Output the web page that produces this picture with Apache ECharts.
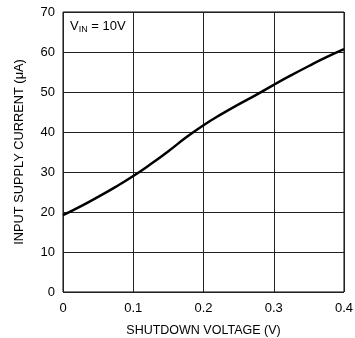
<!DOCTYPE html>
<html>
<head>
<meta charset="utf-8">
<script src="https://cdn.jsdelivr.net/npm/echarts@6/dist/echarts.min.js"></script>
<style>
  html, body { margin: 0; padding: 0; background: #fff; }
  #chart { width: 355px; height: 338px; }
</style>
</head>
<body>
<div id="chart"></div>
<script>
// Shutdown voltage (V) vs input supply current (µA), VIN = 10V
const shutdownVoltage = [0, 0.025, 0.05, 0.075, 0.1, 0.125, 0.15, 0.175, 0.2, 0.225, 0.25, 0.275, 0.3, 0.325, 0.35, 0.375, 0.4];
const supplyCurrent = [19.2, 21.4, 23.8, 26.3, 29.0, 32.0, 35.2, 38.6, 41.7, 44.4, 46.9, 49.3, 51.8, 54.2, 56.5, 58.7, 60.7];
const xTicks = ['0', '0.1', '0.2', '0.3', '0.4'];
const yTicks = ['0', '10', '20', '30', '40', '50', '60', '70'];

const FONT = '"Liberation Sans", Arial, sans-serif';
const chart = echarts.init(document.getElementById('chart'), null, { renderer: 'canvas' });

chart.setOption({
  animation: false,
  backgroundColor: '#fff',
  grid: {
    left: 63, top: 12, right: 11, bottom: 46,
    outerBoundsMode: 'none', containLabel: false,
    show: true, borderColor: '#000', borderWidth: 1
  },
  xAxis: {
    type: 'value', min: 0, max: 0.4, interval: 0.1,
    name: 'SHUTDOWN VOLTAGE (V)', nameLocation: 'middle', nameGap: 32,
    nameTextStyle: { fontFamily: FONT, fontSize: 12.5, color: '#000' },
    axisLine: { show: false }, axisTick: { show: false },
    axisLabel: { fontFamily: FONT, fontSize: 13, color: '#000', margin: 10,
      formatter: (v) => xTicks[Math.round(v * 10)] },
    splitLine: { lineStyle: { color: '#222', width: 1 } }
  },
  yAxis: {
    type: 'value', min: 0, max: 70, interval: 10,
    name: 'INPUT SUPPLY CURRENT (\u03bcA)', nameLocation: 'middle', nameGap: 37,
    nameTextStyle: { fontFamily: FONT, fontSize: 12.8, color: '#000' },
    axisLine: { show: false }, axisTick: { show: false },
    axisLabel: { fontFamily: FONT, fontSize: 13, color: '#000', margin: 8,
      formatter: (v) => yTicks[Math.round(v / 10)] },
    splitLine: { lineStyle: { color: '#222', width: 1 } }
  },
  graphic: [{
    type: 'text', left: 70, top: 20,
    style: {
      text: '{a|V}{s|IN}{a| = 10V}',
      rich: {
        a: { fontFamily: FONT, fontSize: 13, fill: '#000' },
        s: { fontFamily: FONT, fontSize: 9, fill: '#000', padding: [6, 0, 0, 0] }
      }
    }
  }],
  series: [{
    type: 'line', smooth: true, symbol: 'none',
    data: shutdownVoltage.map((v, i) => [v, supplyCurrent[i]]),
    lineStyle: { color: '#000', width: 2.5 }
  }]
});
</script>
</body>
</html>
